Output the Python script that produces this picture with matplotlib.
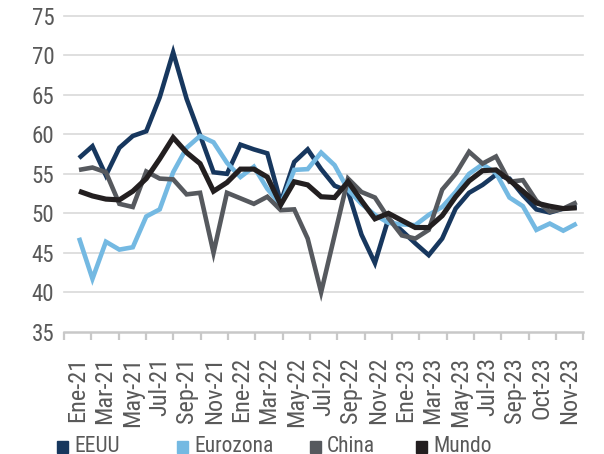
import matplotlib
matplotlib.use("Agg")
import matplotlib.pyplot as plt
import numpy as np
from matplotlib import font_manager
from matplotlib.patches import Rectangle

# ---- data (Oct-20 .. Nov-23, monthly) ----
eeuu = [57.0, 58.5, 54.8, 58.3, 59.8, 60.4, 64.7, 70.4, 64.5, 59.9,
        55.2, 55.0, 58.7, 58.1, 57.6, 51.4, 56.5, 58.1, 55.6, 53.5,
        52.8, 47.3, 43.7, 49.3, 47.8, 46.2, 44.7, 46.8, 50.6, 52.6,
        53.6, 54.9, 54.4, 52.3, 50.5, 50.1, 50.6, 50.8]
eurozona = [46.9, 41.7, 46.4, 45.4, 45.7, 49.6, 50.5, 55.2, 58.3, 59.8,
            59.0, 56.4, 54.6, 55.9, 53.1, 51.1, 55.5, 55.6, 57.7, 56.1,
            53.0, 51.2, 49.8, 48.8, 48.6, 48.5, 49.8, 50.8, 52.7, 55.0,
            56.2, 55.1, 52.0, 50.9, 47.9, 48.7, 47.8, 48.7]
china = [55.5, 55.8, 55.2, 51.2, 50.8, 55.3, 54.4, 54.3, 52.4, 52.6,
         45.0, 52.6, 51.9, 51.2, 52.1, 50.4, 50.5, 46.8, 40.0, 47.2,
         54.4, 52.7, 52.0, 49.4, 47.2, 46.8, 47.9, 53.0, 55.0, 57.8,
         56.3, 57.2, 54.0, 54.2, 51.6, 50.2, 50.6, 51.4]
mundo = [52.8, 52.2, 51.8, 51.7, 52.8, 54.4, 56.9, 59.6, 57.7, 56.3,
         52.8, 53.9, 55.6, 55.6, 54.6, 51.1, 54.0, 53.6, 52.1, 52.0,
         54.0, 51.6, 49.3, 50.0, 49.1, 48.2, 48.2, 49.7, 52.1, 54.1,
         55.4, 55.5, 54.2, 52.8, 51.3, 50.9, 50.6, 50.7]

tick_labels = ["Ene-21", "Mar-21", "May-21", "Jul-21", "Sep-21", "Nov-21",
               "Ene-22", "Mar-22", "May-22", "Jul-22", "Sep-22", "Nov-22",
               "Ene-23", "Mar-23", "May-23", "Jul-23", "Sep-23", "Oct-23",
               "Nov-23"]
y_ticks = [35, 40, 45, 50, 55, 60, 65, 70, 75]
series_names = ["EEUU", "Eurozona", "China", "Mundo"]
colors = ["#17375e", "#74b9e2", "#56595e", "#231f20"]
widths = [3.3, 3.3, 3.3, 3.7]

# pick a condensed face if one exists
cond = None
for f in font_manager.fontManager.ttflist:
    fn = f.fname.lower()
    if "narrow" in fn or "condensed" in fn:
        if "bold" not in fn and "italic" not in fn and "oblique" not in fn:
            cond = f
            if "liberation" in fn:
                break
if cond is not None:
    fp = font_manager.FontProperties(fname=cond.fname)
    ysize, xsize, lsize = 16.5, 17.5, 15.5
else:
    fp = font_manager.FontProperties(family="DejaVu Sans")
    ysize, xsize, lsize = 13, 13, 13

W, H = 604, 454
fig = plt.figure(figsize=(W / 100, H / 100), dpi=100)
x0, x1, ytop, ybot = 64, 583.3, 16, 331.7
ax = fig.add_axes([x0 / W, 1 - ybot / H, (x1 - x0) / W, (ybot - ytop) / H])

series = [eeuu, eurozona, china, mundo]
xs = np.arange(len(eeuu))
for vals, c, lw in zip(series, colors, widths):
    ax.plot(xs, vals, color=c, lw=lw, solid_joinstyle="miter",
            solid_capstyle="butt", zorder=3)

xl0 = -(79 - x0) / 13.45
xl1 = len(eeuu) - 1 + (x1 - 576.7) / 13.45
ax.set_xlim(xl0, xl1)
ax.set_ylim(35, 75)

for yv in y_ticks[1:]:
    ax.axhline(yv, color="#d9d9d9", lw=1.2, zorder=1, clip_on=False)

for s in ["left", "right", "top"]:
    ax.spines[s].set_visible(False)
ax.spines["bottom"].set_color("#c8c8c8")
ax.spines["bottom"].set_linewidth(1.8)
ax.spines["bottom"].set_zorder(2)

ax.set_yticks(y_ticks)
ax.set_yticklabels([str(v) for v in y_ticks])
ax.tick_params(axis="y", length=0, pad=7, labelcolor="#595959")
for t in ax.get_yticklabels():
    t.set_fontproperties(fp)
    t.set_fontsize(ysize)

bounds = np.linspace(xl0, xl1, len(tick_labels) + 1)
ax.set_xticks(bounds)
ax.set_xticklabels([])
ax.tick_params(axis="x", which="major", length=6, width=1.6, color="#c8c8c8")
mids = (bounds[:-1] + bounds[1:]) / 2
ax.set_xticks(mids, minor=True)
ax.set_xticklabels(tick_labels, minor=True, rotation=90)
ax.tick_params(axis="x", which="minor", length=0, pad=18,
               labelcolor="#595959")
for t in ax.get_xticklabels(minor=True):
    t.set_fontproperties(fp)
    t.set_fontsize(xsize)

# legend (manual, Excel style)
leg_sq_x = [57, 177, 310, 416]
for name, c, sx in zip(series_names, colors, leg_sq_x):
    fig.patches.append(Rectangle((sx / W, 1 - 453 / H), 11 / W, 12 / H,
                                 transform=fig.transFigure, color=c))
    fig.text((sx + 17) / W, 1 - 446 / H, name, fontproperties=fp,
             fontsize=lsize, color="#595959", va="center", ha="left")

fig.savefig("out.png", dpi=100)
